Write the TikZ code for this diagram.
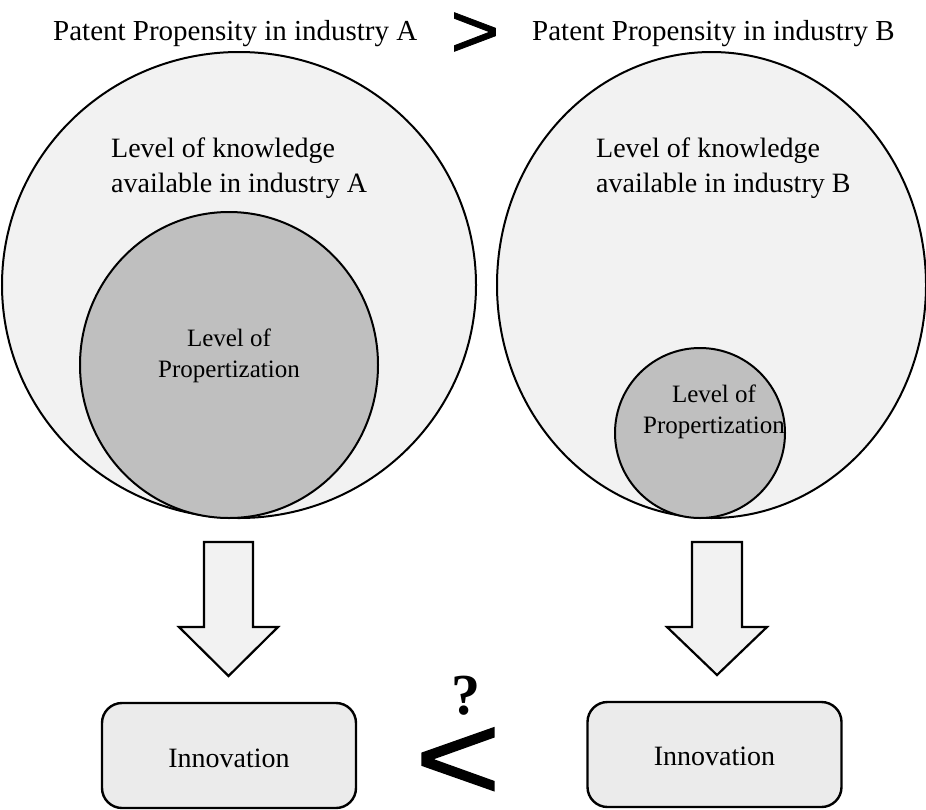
\documentclass[tikz,border=0pt]{standalone}
\usepackage{fontspec}
\usepackage{graphicx}
\usetikzlibrary{shapes.geometric}
\setmainfont{Liberation Serif}
\newfontfamily\relfont[FakeBold=1]{Liberation Sans}
\definecolor{knowfill}{HTML}{F2F2F2}
\definecolor{propfill}{HTML}{BFBFBF}
\definecolor{boxfill}{HTML}{EBEBEB}
\begin{document}
\begin{tikzpicture}[x=1pt,y=-1pt,
  knowledge/.style={draw=black, line width=2pt, fill=knowfill, ellipse, inner sep=0pt},
  property/.style={draw=black, line width=2pt, fill=propfill, ellipse, inner sep=0pt},
  blockarrow/.style={draw=black, line width=2.2pt, fill=knowfill, line join=miter},
  outcome/.style={draw=black, line width=2.4pt, fill=boxfill, rounded corners=20pt,
    minimum width=254pt, minimum height=105pt, inner sep=0pt},
  label/.style={inner sep=0pt, font=\fontsize{28}{35}\selectfont},
  toplabel/.style={inner sep=0pt, font=\fontsize{29}{35}\selectfont, anchor=base west},
  proplabel/.style={inner sep=0pt, align=center, font=\fontsize{25}{30.5}\selectfont},
  relation/.style={inner sep=0pt, anchor=base, text depth=0pt}
]
\useasboundingbox (0,0) rectangle (926,809);

% headline comparing patent propensity
\node[toplabel] (propA) at (53,40) {Patent Propensity in industry A};
\node[toplabel] (propB) at (532,40) {Patent Propensity in industry B};
\node[relation, font=\relfont\fontsize{76}{76}\selectfont]
  (gt) at (475,57) {\scalebox{1.11}[1]{>}};

% knowledge circles
\node[knowledge, minimum width=474pt, minimum height=466pt] (knowA) at (239,285) {};
\node[knowledge, minimum width=429pt, minimum height=466pt] (knowB) at (711.5,285) {};
\node[label, align=left, anchor=base west] (knowAtxt) at (111,192) {Level of knowledge\\available in industry A};
\node[label, align=left, anchor=base west] (knowBtxt) at (596,192) {Level of knowledge\\available in industry B};

% propertization circles
\node[property, minimum width=298pt, minimum height=306pt] (propcA) at (229,365) {};
\node[property, minimum width=170pt, minimum height=170pt] (propcB) at (700,433) {};
\node[proplabel, anchor=base] (propAtxt) at (229,377) {Level of\\Propertization};
\node[proplabel, anchor=base] (propBtxt) at (714,433) {Level of\\Propertization};

% downward block arrows
\draw[blockarrow] (204,542) -- (253,542) -- (253,627) -- (278,627) -- (228.5,676)
  -- (179,627) -- (204,627) -- cycle;
\draw[blockarrow] (692,542) -- (742,542) -- (742,627) -- (767,627) -- (717,675)
  -- (667,627) -- (692,627) -- cycle;

% innovation boxes
\node[outcome] (innA) at (229,755.5) {};
\node[outcome] (innB) at (714.5,754.5) {};
\node[label, anchor=base] (innAtxt) at (229,767) {Innovation};
\node[label, anchor=base] (innBtxt) at (714.5,765) {Innovation};

% uncertain relation between outcomes
\node[inner sep=0pt, anchor=base, text depth=0pt, font=\bfseries\fontsize{58}{58}\selectfont]
  (q) at (466,714) {?};
\node[relation, font=\relfont\fontsize{124}{124}\selectfont]
  (lt) at (458,800) {\scalebox{1.19}[1]{<}};
\end{tikzpicture}
\end{document}
